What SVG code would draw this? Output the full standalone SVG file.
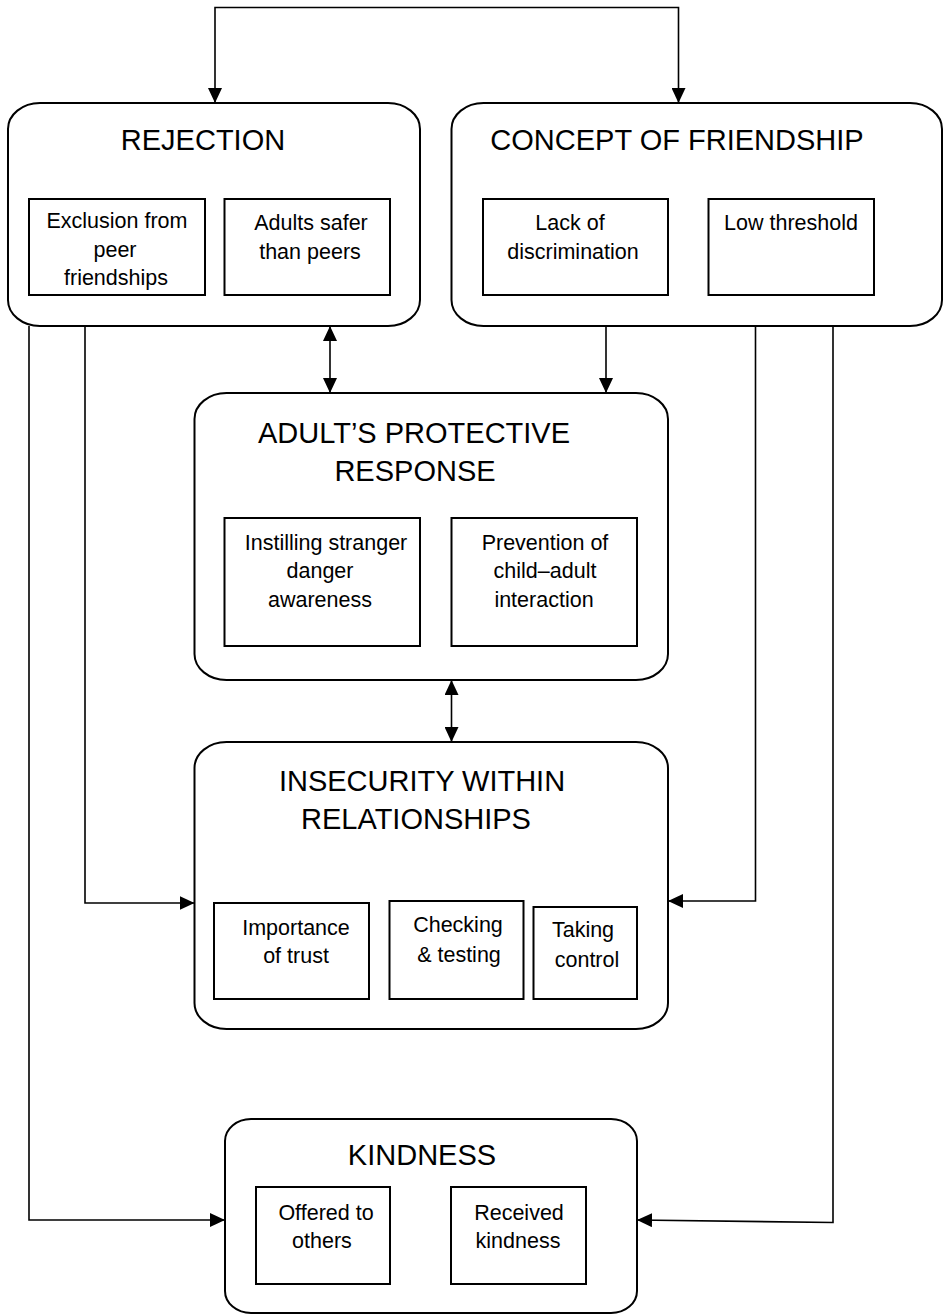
<svg xmlns="http://www.w3.org/2000/svg" width="944" height="1315" viewBox="0 0 944 1315">
<style>
.main{fill:#fff;stroke:#000;stroke-width:2}
.sub{fill:#fff;stroke:#000;stroke-width:2}
.conn{fill:none;stroke:#000;stroke-width:1.6}
.t{font-family:"Liberation Sans",Arial,sans-serif;font-size:29px;fill:#000;text-anchor:middle}
.s{font-family:"Liberation Sans",Arial,sans-serif;font-size:21.5px;fill:#000;text-anchor:middle}
</style>
<defs>
<marker id="ah" viewBox="0 0 15 14" refX="15" refY="7" markerWidth="15" markerHeight="14" orient="auto-start-reverse" markerUnits="userSpaceOnUse">
<path d="M0,0 L15,7 L0,14 z" fill="#000"/>
</marker>
</defs>
<g id="connectors">
<path class="conn" d="M215,103 V7.5 H678.5 V103" marker-start="url(#ah)" marker-end="url(#ah)"/>
<path class="conn" d="M330,326 V393" marker-start="url(#ah)" marker-end="url(#ah)"/>
<path class="conn" d="M606,326 V393" marker-end="url(#ah)"/>
<path class="conn" d="M451.5,680 V742" marker-start="url(#ah)" marker-end="url(#ah)"/>
<path class="conn" d="M85,326 V903 H194.5" marker-end="url(#ah)"/>
<path class="conn" d="M755.5,326 V901 H668" marker-end="url(#ah)"/>
<path class="conn" d="M29,326 V1220 H225" marker-end="url(#ah)"/>
<path class="conn" d="M833,326 V1222.5 L637,1220" marker-end="url(#ah)"/>
</g>
<g id="rejection">
<rect class="main" x="8" y="103" width="412" height="223" rx="32" ry="26"/>
<text class="t" x="203" y="150">REJECTION</text>
<rect class="sub" x="29" y="199" width="176" height="96"/>
<text class="s" x="117" y="228">Exclusion from</text>
<text class="s" x="115" y="257">peer</text>
<text class="s" x="116" y="285">friendships</text>
<rect class="sub" x="224.5" y="199" width="165.5" height="96"/>
<text class="s" x="311" y="230">Adults safer</text>
<text class="s" x="310" y="259">than peers</text>
</g>
<g id="concept">
<rect class="main" x="451.5" y="103" width="490.5" height="223" rx="32" ry="26"/>
<text class="t" x="677" y="150">CONCEPT OF FRIENDSHIP</text>
<rect class="sub" x="483" y="199" width="185" height="96"/>
<text class="s" x="570" y="230">Lack of</text>
<text class="s" x="573" y="259">discrimination</text>
<rect class="sub" x="708.5" y="199" width="165.5" height="96"/>
<text class="s" x="791" y="230">Low threshold</text>
</g>
<g id="adult">
<rect class="main" x="194.5" y="393" width="473.5" height="287" rx="32" ry="26"/>
<text class="t" x="414" y="443">ADULT’S PROTECTIVE</text>
<text class="t" x="415" y="481">RESPONSE</text>
<rect class="sub" x="224.5" y="518" width="195.5" height="128"/>
<text class="s" x="326" y="550">Instilling stranger</text>
<text class="s" x="320" y="578">danger</text>
<text class="s" x="320" y="607">awareness</text>
<rect class="sub" x="451.5" y="518" width="185.5" height="128"/>
<text class="s" x="545" y="550">Prevention of</text>
<text class="s" x="545" y="578">child–adult</text>
<text class="s" x="544" y="607">interaction</text>
</g>
<g id="insecurity">
<rect class="main" x="194.5" y="742" width="473.5" height="287" rx="32" ry="26"/>
<text class="t" x="422" y="791">INSECURITY WITHIN</text>
<text class="t" x="416" y="829">RELATIONSHIPS</text>
<rect class="sub" x="214" y="903" width="155" height="96"/>
<text class="s" x="296" y="935">Importance</text>
<text class="s" x="296" y="963">of trust</text>
<rect class="sub" x="389.5" y="901" width="134" height="98"/>
<text class="s" x="458" y="932">Checking</text>
<text class="s" x="459" y="962">&amp; testing</text>
<rect class="sub" x="533.5" y="907" width="103.5" height="92"/>
<text class="s" x="583" y="937">Taking</text>
<text class="s" x="587" y="967">control</text>
</g>
<g id="kindness">
<rect class="main" x="225" y="1119" width="412" height="194" rx="26" ry="22"/>
<text class="t" x="422" y="1165">KINDNESS</text>
<rect class="sub" x="256" y="1187" width="134" height="97"/>
<text class="s" x="326" y="1220">Offered to</text>
<text class="s" x="322" y="1248">others</text>
<rect class="sub" x="451" y="1187" width="135" height="97"/>
<text class="s" x="519" y="1220">Received</text>
<text class="s" x="518" y="1248">kindness</text>
</g>
</svg>
